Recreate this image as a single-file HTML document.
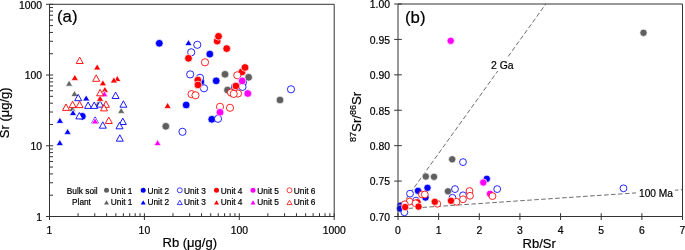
<!DOCTYPE html>
<html><head><meta charset="utf-8"><style>
html,body{margin:0;padding:0;background:#fff;}
body{width:685px;height:250px;overflow:hidden;font-family:"Liberation Sans", sans-serif;}
svg{display:block;will-change:transform;}
text{stroke:#000;stroke-width:0.2px;}
</style></head><body>
<svg width="685" height="250" viewBox="0 0 685 250">
<rect width="685" height="250" fill="#fff"/>
<circle cx="82.3" cy="116.30" r="3.85" fill="#0000ff" stroke="#fff" stroke-width="0.7"/>
<polygon points="69.10,80.20 72.70,86.20 65.50,86.20" fill="#666" stroke="#fff" stroke-width="0.7"/>
<polygon points="74.50,90.50 78.10,96.50 70.90,96.50" fill="#666" stroke="#fff" stroke-width="0.7"/>
<polygon points="72.30,105.50 75.90,111.50 68.70,111.50" fill="#666" stroke="#fff" stroke-width="0.7"/>
<polygon points="98.00,100.80 101.60,106.80 94.40,106.80" fill="#666" stroke="#fff" stroke-width="0.7"/>
<polygon points="121.20,107.40 124.80,113.40 117.60,113.40" fill="#666" stroke="#fff" stroke-width="0.7"/>
<polygon points="86.20,94.90 89.80,100.90 82.60,100.90" fill="#0000ff" stroke="#fff" stroke-width="0.7"/>
<polygon points="73.00,109.50 76.60,115.50 69.40,115.50" fill="#0000ff" stroke="#fff" stroke-width="0.7"/>
<polygon points="59.90,117.30 63.50,123.30 56.30,123.30" fill="#0000ff" stroke="#fff" stroke-width="0.7"/>
<polygon points="67.60,128.40 71.20,134.40 64.00,134.40" fill="#0000ff" stroke="#fff" stroke-width="0.7"/>
<polygon points="59.80,139.60 63.40,145.60 56.20,145.60" fill="#0000ff" stroke="#fff" stroke-width="0.7"/>
<polygon points="188.50,39.60 192.10,45.60 184.90,45.60" fill="#0000ff" stroke="#fff" stroke-width="0.7"/>
<polygon points="78.20,94.30 81.70,100.70 74.70,100.70" fill="#fff" stroke="#0000ff" stroke-width="0.9"/>
<polygon points="88.10,102.00 91.60,108.40 84.60,108.40" fill="#fff" stroke="#0000ff" stroke-width="0.9"/>
<polygon points="94.20,102.00 97.70,108.40 90.70,108.40" fill="#fff" stroke="#0000ff" stroke-width="0.9"/>
<polygon points="100.10,100.70 103.60,107.10 96.60,107.10" fill="#fff" stroke="#0000ff" stroke-width="0.9"/>
<polygon points="115.60,92.10 119.10,98.50 112.10,98.50" fill="#fff" stroke="#0000ff" stroke-width="0.9"/>
<polygon points="123.40,100.80 126.90,107.20 119.90,107.20" fill="#fff" stroke="#0000ff" stroke-width="0.9"/>
<polygon points="79.30,112.50 82.80,118.90 75.80,118.90" fill="#fff" stroke="#0000ff" stroke-width="0.9"/>
<polygon points="95.10,116.90 98.60,123.30 91.60,123.30" fill="#fff" stroke="#0000ff" stroke-width="0.9"/>
<polygon points="102.80,121.80 106.30,128.20 99.30,128.20" fill="#fff" stroke="#0000ff" stroke-width="0.9"/>
<polygon points="122.80,118.10 126.30,124.50 119.30,124.50" fill="#fff" stroke="#0000ff" stroke-width="0.9"/>
<polygon points="119.50,122.40 123.00,128.80 116.00,128.80" fill="#fff" stroke="#0000ff" stroke-width="0.9"/>
<polygon points="119.80,134.80 123.30,141.20 116.30,141.20" fill="#fff" stroke="#0000ff" stroke-width="0.9"/>
<polygon points="74.80,74.40 78.40,80.40 71.20,80.40" fill="#ff0000" stroke="#fff" stroke-width="0.7"/>
<polygon points="97.20,63.90 100.80,69.90 93.60,69.90" fill="#ff0000" stroke="#fff" stroke-width="0.7"/>
<polygon points="102.90,79.80 106.50,85.80 99.30,85.80" fill="#ff0000" stroke="#fff" stroke-width="0.7"/>
<polygon points="117.30,75.50 120.90,81.50 113.70,81.50" fill="#ff0000" stroke="#fff" stroke-width="0.7"/>
<polygon points="113.90,76.90 117.50,82.90 110.30,82.90" fill="#ff0000" stroke="#fff" stroke-width="0.7"/>
<polygon points="104.90,86.40 108.50,92.40 101.30,92.40" fill="#ff0000" stroke="#fff" stroke-width="0.7"/>
<polygon points="100.10,95.30 103.70,101.30 96.50,101.30" fill="#ff0000" stroke="#fff" stroke-width="0.7"/>
<polygon points="167.60,102.40 171.20,108.40 164.00,108.40" fill="#ff0000" stroke="#fff" stroke-width="0.7"/>
<polygon points="104.40,90.80 108.00,96.80 100.80,96.80" fill="#ff00ff" stroke="#fff" stroke-width="0.7"/>
<polygon points="95.10,117.90 98.70,123.90 91.50,123.90" fill="#ff00ff" stroke="#fff" stroke-width="0.7"/>
<polygon points="157.60,139.60 161.20,145.60 154.00,145.60" fill="#ff00ff" stroke="#fff" stroke-width="0.7"/>
<polygon points="79.70,57.10 83.20,63.50 76.20,63.50" fill="#fff" stroke="#ff0000" stroke-width="0.9"/>
<polygon points="96.20,74.90 99.70,81.30 92.70,81.30" fill="#fff" stroke="#ff0000" stroke-width="0.9"/>
<polygon points="100.10,89.40 103.60,95.80 96.60,95.80" fill="#fff" stroke="#ff0000" stroke-width="0.9"/>
<polygon points="66.00,104.00 69.50,110.40 62.50,110.40" fill="#fff" stroke="#ff0000" stroke-width="0.9"/>
<polygon points="72.60,101.20 76.10,107.60 69.10,107.60" fill="#fff" stroke="#ff0000" stroke-width="0.9"/>
<polygon points="79.60,101.20 83.10,107.60 76.10,107.60" fill="#fff" stroke="#ff0000" stroke-width="0.9"/>
<polygon points="105.90,100.90 109.40,107.30 102.40,107.30" fill="#fff" stroke="#ff0000" stroke-width="0.9"/>
<polygon points="104.00,104.50 107.50,110.90 100.50,110.90" fill="#fff" stroke="#ff0000" stroke-width="0.9"/>
<polygon points="108.80,117.10 112.30,123.50 105.30,123.50" fill="#fff" stroke="#ff0000" stroke-width="0.9"/>
<circle cx="225" cy="74.30" r="3.85" fill="#5f5f5f" stroke="#fff" stroke-width="0.7"/>
<circle cx="248.6" cy="77.30" r="3.85" fill="#5f5f5f" stroke="#fff" stroke-width="0.7"/>
<circle cx="227.5" cy="90.10" r="3.85" fill="#5f5f5f" stroke="#fff" stroke-width="0.7"/>
<circle cx="280" cy="100.00" r="3.85" fill="#5f5f5f" stroke="#fff" stroke-width="0.7"/>
<circle cx="165.8" cy="126.30" r="3.85" fill="#5f5f5f" stroke="#fff" stroke-width="0.7"/>
<circle cx="200.8" cy="81.80" r="3.85" fill="#0000ff" stroke="#fff" stroke-width="0.7"/>
<circle cx="159.3" cy="43.30" r="3.85" fill="#0000ff" stroke="#fff" stroke-width="0.7"/>
<circle cx="209.8" cy="54.10" r="3.85" fill="#0000ff" stroke="#fff" stroke-width="0.7"/>
<circle cx="186.2" cy="105.00" r="3.85" fill="#0000ff" stroke="#fff" stroke-width="0.7"/>
<circle cx="216.2" cy="80.80" r="3.85" fill="#0000ff" stroke="#fff" stroke-width="0.7"/>
<circle cx="211.8" cy="119.30" r="3.85" fill="#0000ff" stroke="#fff" stroke-width="0.7"/>
<circle cx="197.3" cy="44.80" r="3.60" fill="#fff" stroke="#0000ff" stroke-width="0.85"/>
<circle cx="191.2" cy="52.30" r="3.60" fill="#fff" stroke="#0000ff" stroke-width="0.85"/>
<circle cx="190.2" cy="74.40" r="3.60" fill="#fff" stroke="#0000ff" stroke-width="0.85"/>
<circle cx="200" cy="77.80" r="3.60" fill="#fff" stroke="#0000ff" stroke-width="0.85"/>
<circle cx="204" cy="88.30" r="3.60" fill="#fff" stroke="#0000ff" stroke-width="0.85"/>
<circle cx="182.5" cy="131.80" r="3.60" fill="#fff" stroke="#0000ff" stroke-width="0.85"/>
<circle cx="218" cy="118.80" r="3.60" fill="#fff" stroke="#0000ff" stroke-width="0.85"/>
<circle cx="291" cy="89.30" r="3.60" fill="#fff" stroke="#0000ff" stroke-width="0.85"/>
<circle cx="243" cy="82.30" r="3.60" fill="#fff" stroke="#0000ff" stroke-width="0.85"/>
<circle cx="235" cy="86.80" r="3.60" fill="#fff" stroke="#0000ff" stroke-width="0.85"/>
<circle cx="242.5" cy="86.90" r="3.60" fill="#fff" stroke="#0000ff" stroke-width="0.85"/>
<circle cx="217.2" cy="41.10" r="3.85" fill="#ff0000" stroke="#fff" stroke-width="0.7"/>
<circle cx="218.5" cy="36.30" r="3.85" fill="#ff0000" stroke="#fff" stroke-width="0.7"/>
<circle cx="226.7" cy="48.60" r="3.85" fill="#ff0000" stroke="#fff" stroke-width="0.7"/>
<circle cx="188.5" cy="58.30" r="3.85" fill="#ff0000" stroke="#fff" stroke-width="0.7"/>
<circle cx="197.8" cy="80.10" r="3.85" fill="#ff0000" stroke="#fff" stroke-width="0.7"/>
<circle cx="198" cy="84.90" r="3.85" fill="#ff0000" stroke="#fff" stroke-width="0.7"/>
<circle cx="242" cy="71.90" r="3.85" fill="#ff0000" stroke="#fff" stroke-width="0.7"/>
<circle cx="245" cy="67.50" r="3.85" fill="#ff0000" stroke="#fff" stroke-width="0.7"/>
<circle cx="235.9" cy="86.00" r="3.85" fill="#ff0000" stroke="#fff" stroke-width="0.7"/>
<circle cx="205" cy="62.30" r="3.60" fill="#fff" stroke="#ff0000" stroke-width="0.85"/>
<circle cx="237.3" cy="75.30" r="3.60" fill="#fff" stroke="#ff0000" stroke-width="0.85"/>
<circle cx="191.5" cy="94.10" r="3.60" fill="#fff" stroke="#ff0000" stroke-width="0.85"/>
<circle cx="195.5" cy="95.30" r="3.60" fill="#fff" stroke="#ff0000" stroke-width="0.85"/>
<circle cx="238" cy="93.50" r="3.60" fill="#fff" stroke="#ff0000" stroke-width="0.85"/>
<circle cx="231" cy="92.60" r="3.60" fill="#fff" stroke="#ff0000" stroke-width="0.85"/>
<circle cx="233.7" cy="93.90" r="3.60" fill="#fff" stroke="#ff0000" stroke-width="0.85"/>
<circle cx="220" cy="106.80" r="3.60" fill="#fff" stroke="#ff0000" stroke-width="0.85"/>
<circle cx="230" cy="107.80" r="3.60" fill="#fff" stroke="#ff0000" stroke-width="0.85"/>
<circle cx="242.2" cy="80.90" r="3.85" fill="#ff00ff" stroke="#fff" stroke-width="0.7"/>
<circle cx="247.8" cy="93.50" r="3.85" fill="#ff00ff" stroke="#fff" stroke-width="0.7"/>
<circle cx="220" cy="112.30" r="3.85" fill="#ff00ff" stroke="#fff" stroke-width="0.7"/>
<path d="M49.5,4.3 H334.2 V216.5 H49.5 Z" fill="none" stroke="#333" stroke-width="1"/>
<path d="M49.50,213.3 V220.0 M46.0,216.50 H53.2 M78.07,216.5 V213.2 M49.5,195.21 H53.0 M94.78,216.5 V213.2 M49.5,182.75 H53.0 M106.64,216.5 V213.2 M49.5,173.91 H53.0 M115.83,216.5 V213.2 M49.5,167.06 H53.0 M123.35,216.5 V213.2 M49.5,161.46 H53.0 M129.70,216.5 V213.2 M49.5,156.72 H53.0 M135.20,216.5 V213.2 M49.5,152.62 H53.0 M140.06,216.5 V213.2 M49.5,149.00 H53.0 M144.40,213.3 V220.0 M46.0,145.77 H53.2 M172.97,216.5 V213.2 M49.5,124.47 H53.0 M189.68,216.5 V213.2 M49.5,112.02 H53.0 M201.54,216.5 V213.2 M49.5,103.18 H53.0 M210.73,216.5 V213.2 M49.5,96.33 H53.0 M218.25,216.5 V213.2 M49.5,90.73 H53.0 M224.60,216.5 V213.2 M49.5,85.99 H53.0 M230.10,216.5 V213.2 M49.5,81.89 H53.0 M234.96,216.5 V213.2 M49.5,78.27 H53.0 M239.30,213.3 V220.0 M46.0,75.03 H53.2 M267.87,216.5 V213.2 M49.5,53.74 H53.0 M284.58,216.5 V213.2 M49.5,41.28 H53.0 M296.44,216.5 V213.2 M49.5,32.45 H53.0 M305.63,216.5 V213.2 M49.5,25.59 H53.0 M313.15,216.5 V213.2 M49.5,19.99 H53.0 M319.50,216.5 V213.2 M49.5,15.26 H53.0 M325.00,216.5 V213.2 M49.5,11.15 H53.0 M329.86,216.5 V213.2 M49.5,7.54 H53.0 M334.20,213.3 V220.0 M46.0,4.30 H53.2" fill="none" stroke="#333" stroke-width="1"/>
<g font-family='"Liberation Sans", sans-serif' font-size="10.4" fill="#000">
<text x="49.50" y="233.6" text-anchor="middle">1</text>
<text x="42" y="220.80" text-anchor="end">1</text>
<text x="144.40" y="233.6" text-anchor="middle">10</text>
<text x="42" y="150.07" text-anchor="end">10</text>
<text x="239.30" y="233.6" text-anchor="middle">100</text>
<text x="42" y="79.33" text-anchor="end">100</text>
<text x="334.20" y="233.6" text-anchor="middle">1000</text>
<text x="42" y="8.60" text-anchor="end">1000</text>
</g>
<text x="57" y="21.8" font-family='"Liberation Sans", sans-serif' font-size="16.8">(a)</text>
<text x="189.8" y="247" font-family='"Liberation Sans", sans-serif' font-size="13" text-anchor="middle">Rb (μg/g)</text>
<text transform="translate(9.4,112.8) rotate(-90)" font-family='"Liberation Sans", sans-serif' font-size="13" text-anchor="middle">Sr (μg/g)</text>
<g font-family='"Liberation Sans", sans-serif' font-size="8.3" fill="#000">
<text x="66.8" y="193.7">Bulk soil</text>
<text x="72" y="204.8">Plant</text>
<text x="110.8" y="193.7">Unit 1</text>
<text x="110.8" y="204.8">Unit 1</text>
<text x="147.5" y="193.7">Unit 2</text>
<text x="147.5" y="204.8">Unit 2</text>
<text x="184.1" y="193.7">Unit 3</text>
<text x="184.1" y="204.8">Unit 3</text>
<text x="220.8" y="193.7">Unit 4</text>
<text x="220.8" y="204.8">Unit 4</text>
<text x="257.3" y="193.7">Unit 5</text>
<text x="257.3" y="204.8">Unit 5</text>
<text x="293.8" y="193.7">Unit 6</text>
<text x="293.8" y="204.8">Unit 6</text>
</g>
<circle cx="106.5" cy="190.3" r="2.5" fill="#5f5f5f"/>
<polygon points="106.50,200.25 109.00,204.55 104.00,204.55" fill="#5f5f5f"/>
<circle cx="143.2" cy="190.3" r="2.5" fill="#0000ff"/>
<polygon points="143.20,200.25 145.70,204.55 140.70,204.55" fill="#0000ff"/>
<circle cx="179.8" cy="190.3" r="2.5" fill="#fff" stroke="#0000ff" stroke-width="0.75"/>
<polygon points="179.80,200.25 182.30,204.55 177.30,204.55" fill="#fff" stroke="#0000ff" stroke-width="0.75"/>
<circle cx="216.5" cy="190.3" r="2.5" fill="#ff0000"/>
<polygon points="216.50,200.25 219.00,204.55 214.00,204.55" fill="#ff0000"/>
<circle cx="253" cy="190.3" r="2.5" fill="#ff00ff"/>
<polygon points="253.00,200.25 255.50,204.55 250.50,204.55" fill="#ff00ff"/>
<circle cx="289.5" cy="190.3" r="2.5" fill="#fff" stroke="#ff0000" stroke-width="0.75"/>
<polygon points="289.50,200.25 292.00,204.55 287.00,204.55" fill="#fff" stroke="#ff0000" stroke-width="0.75"/>
<line x1="398" y1="210.1" x2="545.8" y2="4" stroke="#6e6e6e" stroke-width="1" stroke-dasharray="4.6 2.4"/>
<line x1="398" y1="209.1" x2="682" y2="189.75" stroke="#6e6e6e" stroke-width="1" stroke-dasharray="4.6 2.4" stroke-dashoffset="-3.5"/>
<rect x="489" y="58" width="27" height="13" fill="#fff"/>
<rect x="636" y="186" width="39" height="13" fill="#fff"/>
<text x="491" y="68.8" font-family='"Liberation Sans", sans-serif' font-size="10.4">2 Ga</text>
<text x="639" y="196.5" font-family='"Liberation Sans", sans-serif' font-size="10.2">100 Ma</text>
<circle cx="643.5" cy="32.80" r="3.66" fill="#5f5f5f" stroke="#fff" stroke-width="0.7"/>
<circle cx="452.2" cy="159.30" r="3.66" fill="#5f5f5f" stroke="#fff" stroke-width="0.7"/>
<circle cx="425.8" cy="176.50" r="3.66" fill="#5f5f5f" stroke="#fff" stroke-width="0.7"/>
<circle cx="434" cy="176.80" r="3.66" fill="#5f5f5f" stroke="#fff" stroke-width="0.7"/>
<circle cx="448" cy="191.30" r="3.66" fill="#5f5f5f" stroke="#fff" stroke-width="0.7"/>
<circle cx="427.5" cy="187.80" r="3.66" fill="#0000ff" stroke="#fff" stroke-width="0.7"/>
<circle cx="418" cy="190.80" r="3.66" fill="#0000ff" stroke="#fff" stroke-width="0.7"/>
<circle cx="425.5" cy="197.50" r="3.66" fill="#0000ff" stroke="#fff" stroke-width="0.7"/>
<circle cx="400.5" cy="205.60" r="3.66" fill="#0000ff" stroke="#fff" stroke-width="0.7"/>
<circle cx="400" cy="208.60" r="3.66" fill="#0000ff" stroke="#fff" stroke-width="0.7"/>
<circle cx="486.8" cy="178.80" r="3.66" fill="#0000ff" stroke="#fff" stroke-width="0.7"/>
<circle cx="463" cy="162.10" r="3.42" fill="#fff" stroke="#0000ff" stroke-width="0.85"/>
<circle cx="410" cy="193.70" r="3.42" fill="#fff" stroke="#0000ff" stroke-width="0.85"/>
<circle cx="416" cy="200.60" r="3.42" fill="#fff" stroke="#0000ff" stroke-width="0.85"/>
<circle cx="404.4" cy="212.30" r="3.42" fill="#fff" stroke="#0000ff" stroke-width="0.85"/>
<circle cx="455" cy="189.10" r="3.42" fill="#fff" stroke="#0000ff" stroke-width="0.85"/>
<circle cx="452.5" cy="197.80" r="3.42" fill="#fff" stroke="#0000ff" stroke-width="0.85"/>
<circle cx="463" cy="195.30" r="3.42" fill="#fff" stroke="#0000ff" stroke-width="0.85"/>
<circle cx="497.2" cy="189.10" r="3.42" fill="#fff" stroke="#0000ff" stroke-width="0.85"/>
<circle cx="623.5" cy="188.30" r="3.42" fill="#fff" stroke="#0000ff" stroke-width="0.85"/>
<circle cx="417.5" cy="202.30" r="3.66" fill="#ff0000" stroke="#fff" stroke-width="0.7"/>
<circle cx="422" cy="194.50" r="3.42" fill="#fff" stroke="#ff0000" stroke-width="0.85"/>
<circle cx="424.8" cy="194.50" r="3.42" fill="#fff" stroke="#ff0000" stroke-width="0.85"/>
<circle cx="409.6" cy="201.50" r="3.42" fill="#fff" stroke="#ff0000" stroke-width="0.85"/>
<circle cx="404.8" cy="204.30" r="3.42" fill="#fff" stroke="#ff0000" stroke-width="0.85"/>
<circle cx="415.5" cy="203.30" r="3.42" fill="#fff" stroke="#ff0000" stroke-width="0.85"/>
<circle cx="437.3" cy="203.80" r="3.42" fill="#fff" stroke="#ff0000" stroke-width="0.85"/>
<circle cx="456.5" cy="201.80" r="3.42" fill="#fff" stroke="#ff0000" stroke-width="0.85"/>
<circle cx="463" cy="199.30" r="3.42" fill="#fff" stroke="#ff0000" stroke-width="0.85"/>
<circle cx="469.5" cy="191.00" r="3.42" fill="#fff" stroke="#ff0000" stroke-width="0.85"/>
<circle cx="470" cy="195.80" r="3.42" fill="#fff" stroke="#ff0000" stroke-width="0.85"/>
<circle cx="405.2" cy="207.10" r="3.66" fill="#ff0000" stroke="#fff" stroke-width="0.7"/>
<circle cx="418.5" cy="206.60" r="3.66" fill="#ff0000" stroke="#fff" stroke-width="0.7"/>
<circle cx="434.8" cy="201.80" r="3.66" fill="#ff0000" stroke="#fff" stroke-width="0.7"/>
<circle cx="451" cy="200.80" r="3.66" fill="#ff0000" stroke="#fff" stroke-width="0.7"/>
<circle cx="450.7" cy="40.80" r="3.66" fill="#ff00ff" stroke="#fff" stroke-width="0.7"/>
<circle cx="483.3" cy="182.50" r="3.66" fill="#ff00ff" stroke="#fff" stroke-width="0.7"/>
<circle cx="490" cy="193.80" r="3.66" fill="#ff00ff" stroke="#fff" stroke-width="0.7"/>
<circle cx="492.5" cy="196.10" r="3.42" fill="#fff" stroke="#ff0000" stroke-width="0.85"/>
<path d="M398,4 H682.5 V216.5 H398 Z" fill="none" stroke="#333" stroke-width="1"/>
<path d="M398.00,213.2 V220.0 M438.64,213.2 V220.0 M479.29,213.2 V220.0 M519.93,213.2 V220.0 M560.57,213.2 V220.0 M601.21,213.2 V220.0 M641.86,213.2 V220.0 M682.50,213.2 V220.0 M394.2,216.50 H401.8 M394.2,181.08 H401.8 M394.2,145.67 H401.8 M394.2,110.25 H401.8 M394.2,74.83 H401.8 M394.2,39.42 H401.8 M394.2,4.00 H401.8" fill="none" stroke="#333" stroke-width="1"/>
<g font-family='"Liberation Sans", sans-serif' font-size="10.4" fill="#000">
<text x="398.00" y="233.6" text-anchor="middle">0</text>
<text x="438.64" y="233.6" text-anchor="middle">1</text>
<text x="479.29" y="233.6" text-anchor="middle">2</text>
<text x="519.93" y="233.6" text-anchor="middle">3</text>
<text x="560.57" y="233.6" text-anchor="middle">4</text>
<text x="601.21" y="233.6" text-anchor="middle">5</text>
<text x="641.86" y="233.6" text-anchor="middle">6</text>
<text x="682.50" y="233.6" text-anchor="middle">7</text>
<text x="390" y="220.80" text-anchor="end">0.70</text>
<text x="390" y="185.38" text-anchor="end">0.75</text>
<text x="390" y="149.97" text-anchor="end">0.80</text>
<text x="390" y="114.55" text-anchor="end">0.85</text>
<text x="390" y="79.13" text-anchor="end">0.90</text>
<text x="390" y="43.72" text-anchor="end">0.95</text>
<text x="390" y="8.30" text-anchor="end">1.00</text>
</g>
<text x="405" y="22.9" font-family='"Liberation Sans", sans-serif' font-size="16.8">(b)</text>
<text x="539.2" y="248.2" font-family='"Liberation Sans", sans-serif' font-size="13" text-anchor="middle">Rb/Sr</text>
<text transform="translate(361.3,116.9) rotate(-90)" font-family='"Liberation Sans", sans-serif' font-size="13.2" text-anchor="middle"><tspan font-size="9" dy="-5">87</tspan><tspan dy="5">Sr/</tspan><tspan font-size="9" dy="-5">86</tspan><tspan dy="5">Sr</tspan></text>
</svg>
</body></html>
